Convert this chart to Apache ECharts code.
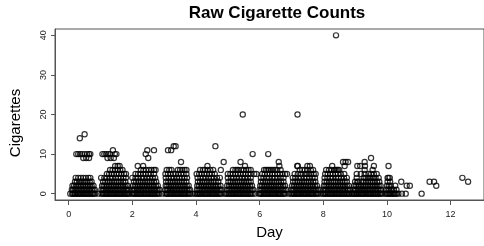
<!DOCTYPE html>
<html><head><meta charset="utf-8">
<script src="https://cdn.jsdelivr.net/npm/echarts@6/dist/echarts.min.js"></script>
<style>html,body{margin:0;padding:0;background:#fff}#c{width:484px;height:246px}</style>
</head><body><div id="c"></div>
<script>
// Day (x) values of observations with 0..4 cigarettes
const cig0 = [0.05,0.11,0.14,0.18,0.21,0.25,0.29,0.32,0.36,0.39,0.43,0.47,0.5,0.54,0.57,0.61,0.65,0.68,0.72,0.75,0.79,0.83,
 0.93,1.03,1.07,1.1,1.14,1.18,1.21,1.25,1.29,1.32,1.36,1.4,1.43,1.47,1.51,1.54,1.58,1.62,1.65,1.69,1.73,1.76,1.8,1.84,1.87,1.91,
 1.99,2.03,2.06,2.1,2.14,2.17,2.21,2.25,2.28,2.32,2.36,2.39,2.43,2.47,2.5,2.54,2.58,2.61,2.65,2.69,2.72,2.76,2.8,2.84,2.93,
 3.04,3.08,3.11,3.15,3.19,3.22,3.26,3.3,3.33,3.37,3.41,3.44,3.48,3.52,3.55,3.59,3.63,3.66,3.7,3.74,3.78,3.82,3.89,3.97,
 4.02,4.06,4.09,4.13,4.17,4.2,4.24,4.28,4.31,4.35,4.39,4.42,4.46,4.5,4.53,4.57,4.61,4.64,4.68,4.72,4.76,4.8,4.9,
 4.95,4.99,5.03,5.06,5.1,5.14,5.17,5.21,5.25,5.28,5.32,5.36,5.39,5.43,5.47,5.5,5.54,5.58,5.61,5.65,5.69,5.73,5.78,5.85,
 5.98,6.02,6.05,6.09,6.13,6.16,6.2,6.24,6.27,6.31,6.35,6.38,6.42,6.46,6.49,6.53,6.57,6.6,6.64,6.68,6.72,6.76,6.8,6.91,
 6.98,7.02,7.06,7.09,7.13,7.17,7.2,7.24,7.28,7.31,7.35,7.39,7.42,7.46,7.5,7.53,7.57,7.61,7.64,7.68,7.72,7.76,7.8,7.84,7.92,
 7.99,8.03,8.06,8.1,8.14,8.17,8.21,8.25,8.28,8.32,8.36,8.39,8.43,8.47,8.5,8.54,8.58,8.61,8.65,8.69,8.72,8.76,8.8,8.82,8.9,
 8.92,8.96,9.0,9.03,9.07,9.11,9.14,9.18,9.22,9.25,9.29,9.33,9.36,9.4,9.44,9.47,9.51,9.55,9.58,9.62,9.66,9.7,9.73,9.77,9.81,9.85,
 9.95,9.99,10.03,10.07,10.1,10.14,10.18,10.22,10.26,10.3,10.36,10.47,10.59,11.09];
const cig1 = [0.1,0.14,0.19,0.23,0.28,0.32,0.37,0.41,0.46,0.5,0.55,0.59,0.64,0.68,0.73,0.78,0.82,
 1.03,1.08,1.12,1.17,1.21,1.26,1.3,1.35,1.39,1.44,1.48,1.53,1.57,1.62,1.66,1.71,1.75,1.8,1.84,1.88,
 2.0,2.05,2.09,2.14,2.18,2.23,2.27,2.32,2.36,2.41,2.45,2.5,2.54,2.59,2.63,2.68,2.72,2.77,2.82,2.86,
 3.04,3.09,3.13,3.18,3.22,3.27,3.31,3.36,3.4,3.45,3.49,3.54,3.58,3.63,3.67,3.72,3.77,3.81,
 4.03,4.08,4.12,4.17,4.21,4.26,4.3,4.35,4.39,4.44,4.48,4.53,4.57,4.62,4.66,4.71,4.76,4.8,
 4.97,5.02,5.06,5.11,5.15,5.2,5.24,5.29,5.33,5.38,5.42,5.47,5.51,5.56,5.6,5.65,5.7,5.75,5.8,
 6.0,6.05,6.09,6.14,6.18,6.23,6.27,6.32,6.36,6.41,6.45,6.5,6.54,6.59,6.63,6.68,6.73,6.78,6.84,
 7.0,7.05,7.09,7.14,7.18,7.23,7.27,7.32,7.36,7.41,7.45,7.5,7.54,7.59,7.63,7.68,7.72,7.77,7.82,7.88,
 8.0,8.05,8.09,8.14,8.18,8.23,8.27,8.32,8.36,8.41,8.45,8.5,8.54,8.59,8.63,8.68,8.73,8.78,8.83,
 8.95,9.0,9.04,9.09,9.13,9.18,9.22,9.27,9.31,9.36,9.4,9.45,9.49,9.54,9.58,9.63,9.67,9.72,9.77,9.82,
 9.97,10.02,10.07,10.12,10.17,10.22,10.3];
const cig2 = [0.12,0.17,0.23,0.28,0.34,0.39,0.45,0.5,0.56,0.61,0.67,0.72,0.78,
 1.05,1.1,1.16,1.21,1.27,1.32,1.38,1.43,1.49,1.54,1.6,1.65,1.71,1.76,1.82,1.86,
 2.02,2.08,2.13,2.19,2.24,2.3,2.35,2.41,2.46,2.52,2.57,2.63,2.68,2.74,2.8,
 3.05,3.1,3.16,3.21,3.27,3.32,3.38,3.43,3.49,3.54,3.6,3.65,3.71,3.77,
 4.04,4.09,4.15,4.2,4.26,4.31,4.37,4.42,4.48,4.53,4.59,4.64,4.7,4.77,
 4.98,5.04,5.09,5.15,5.2,5.26,5.31,5.37,5.42,5.48,5.53,5.59,5.64,5.7,5.76,
 6.02,6.07,6.13,6.18,6.24,6.29,6.35,6.4,6.46,6.51,6.57,6.62,6.68,6.74,6.8,
 7.02,7.08,7.13,7.19,7.24,7.3,7.35,7.41,7.46,7.52,7.57,7.63,7.68,7.74,7.8,
 8.02,8.07,8.13,8.18,8.24,8.29,8.35,8.4,8.46,8.51,8.57,8.62,8.68,8.74,8.8,
 8.97,9.02,9.08,9.13,9.19,9.24,9.3,9.35,9.41,9.46,9.52,9.57,9.63,9.68,9.74,9.8,
 10.0,10.06,10.12,10.26,10.62,10.72,11.55];
const cig3 = [0.2,0.26,0.33,0.39,0.46,0.52,0.59,0.66,0.72,
 1.08,1.15,1.22,1.29,1.36,1.43,1.5,1.57,1.64,1.71,1.78,
 2.05,2.12,2.19,2.26,2.33,2.4,2.47,2.54,2.61,2.68,2.75,
 3.06,3.13,3.2,3.27,3.34,3.41,3.48,3.55,3.62,3.7,
 4.06,4.13,4.2,4.27,4.34,4.41,4.48,4.55,4.62,4.7,
 5.02,5.09,5.16,5.23,5.3,5.37,5.44,5.51,5.58,5.65,5.72,
 6.04,6.11,6.18,6.25,6.32,6.39,6.46,6.53,6.6,6.67,6.75,
 7.05,7.12,7.19,7.26,7.33,7.4,7.47,7.54,7.61,7.68,7.75,
 8.04,8.11,8.18,8.25,8.32,8.39,8.46,8.53,8.6,8.67,8.74,
 9.0,9.07,9.1,9.2,9.27,9.34,9.41,9.48,9.55,9.62,9.69,9.76,
 10.02,10.1,10.45,11.34,11.48,12.55];
const cig4 = [0.22,0.3,0.38,0.46,0.54,0.62,0.68,
 1.02,1.12,1.2,1.3,1.38,1.48,1.56,1.64,1.72,1.8,
 2.0,2.1,2.18,2.28,2.36,2.46,2.55,2.64,2.72,
 3.05,3.14,3.22,3.3,3.4,3.48,3.56,3.64,3.72,
 4.05,4.14,4.22,4.3,4.4,4.48,4.56,4.66,4.75,
 5.0,5.1,5.18,5.27,5.36,5.45,5.54,5.63,5.72,
 6.04,6.12,6.22,6.3,6.4,6.48,6.56,6.66,6.75,
 7.04,7.12,7.22,7.3,7.4,7.48,7.56,7.66,7.74,
 8.04,8.13,8.22,8.3,8.4,8.48,8.56,8.65,8.74,
 9.05,9.27,9.33,9.4,9.46,9.52,9.58,9.64,9.74,
 10.02,10.05,10.09,12.37];
// [day, cigarettes] for counts of 5 and above
const highCounts = [
 [0.35,14],[0.5,15],[0.24,10],[0.3,10],[0.36,10],[0.42,10],[0.5,10],[0.58,10],[0.64,10],[0.68,10],[0.46,9],[0.55,9],[0.64,9],
 [1.39,11],[1.06,10],[1.12,10],[1.18,10],[1.24,10],[1.3,10],[1.45,10],[1.5,10],[1.22,9],[1.32,9],[1.42,9],
 [1.46,7],[1.54,7],[1.6,7],[1.3,6],[1.38,6],[1.46,6],[1.55,6],[1.62,6],[1.69,6],
 [1.2,5],[1.27,5],[1.35,5],[1.42,5],[1.5,5],[1.58,5],[1.66,5],[1.74,5],[1.8,5],
 [2.47,11],[2.68,11],[2.42,10],[2.5,9],[2.17,7],[2.34,7],[2.27,6],[2.35,6],[2.43,6],[2.52,6],[2.6,6],[2.68,6],[2.73,6],
 [2.1,5],[2.18,5],[2.26,5],[2.34,5],[2.42,5],[2.5,5],[2.58,5],[2.68,5],
 [3.12,11],[3.22,11],[3.3,12],[3.36,12],[3.53,8],[3.08,6],[3.16,6],[3.23,6],[3.43,6],[3.5,6],[3.57,6],[3.64,6],[3.7,6],
 [3.04,5],[3.12,5],[3.2,5],[3.28,5],[3.36,5],[3.45,5],[3.53,5],[3.61,5],[3.7,5],
 [4.61,12],[4.87,8],[4.36,7],[4.13,6],[4.22,6],[4.28,6],[4.36,6],[4.45,6],[4.54,6],[4.78,6],
 [4.02,5],[4.1,5],[4.18,5],[4.26,5],[4.34,5],[4.42,5],[4.5,5],[4.59,5],
 [5.47,20],[5.4,8],[5.78,10],[5.9,5],[5.54,7],[5.16,6],[5.24,6],[5.3,6],[5.34,6],[5.42,6],[5.5,6],[5.58,6],[5.65,6],[5.72,6],
 [5.0,5],[5.08,5],[5.16,5],[5.24,5],[5.32,5],[5.4,5],[5.48,5],[5.56,5],[5.64,5],[5.72,5],[5.83,5],
 [6.27,10],[6.6,8],[6.62,7],[6.14,6],[6.2,6],[6.25,6],[6.3,6],[6.36,6],[6.42,6],[6.48,6],[6.55,6],[6.66,6],
 [6.08,5],[6.16,5],[6.24,5],[6.32,5],[6.4,5],[6.48,5],[6.56,5],[6.64,5],[6.72,5],[6.8,5],[6.86,5],
 [7.19,20],[7.18,7],[7.2,7],[7.5,7],[7.58,7],[7.26,6],[7.34,6],[7.42,6],[7.5,6],[7.61,6],[7.68,6],
 [7.1,5],[7.2,5],[7.3,5],[7.42,5],[7.48,5],[7.54,5],[7.62,5],[7.7,5],[7.76,5],
 [8.4,40],[8.62,8],[8.7,8],[8.78,8],[8.67,7],[8.28,7],[8.09,6],[8.18,6],[8.26,6],[8.34,6],[8.38,6],[8.42,6],[8.46,6],[8.5,6],
 [8.06,5],[8.14,5],[8.22,5],[8.3,5],[8.38,5],[8.46,5],[8.55,5],[8.66,5],
 [9.5,9],[9.07,7],[9.16,7],[9.31,7],[9.59,7],[9.3,8],[9.3,6],[9.55,6],
 [9.05,5],[9.18,5],[9.3,5],[9.42,5],[9.5,5],[9.59,5],[9.68,5],
 [10.05,7]];
const xTicks = [0,2,4,6,8,10,12];
const yTicks = [0,10,20,30,40];

const points = [];
[[cig0,0],[cig1,1],[cig2,2],[cig3,3],[cig4,4]].forEach(([xs,v]) => xs.forEach(x => points.push([x,v])));
highCounts.forEach(p => points.push(p));

const font = 'Liberation Sans, Arial, Helvetica, sans-serif';
const axisCol = '#555';
const chart = echarts.init(document.getElementById('c'), null, {renderer:'canvas'});
chart.setOption({
  animation:false,
  backgroundColor:'#fff',
  title:{text:'Raw Cigarette Counts', left:272, top:0, textAlign:'center',
    textStyle:{fontFamily:font, fontSize:17, fontWeight:'bold', color:'#000'}},
  graphic:[{type:'text', x:16, y:123, rotation:Math.PI/2,
    style:{text:'Cigarettes', fontSize:15, fontFamily:font, fill:'#000', align:'center', verticalAlign:'middle'}}],
  grid:{left:55, top:29, width:435, height:171, show:true, borderColor:axisCol, borderWidth:1, containLabel:false},
  xAxis:{type:'value', min:-0.43, max:13.05, position:'bottom',
    axisLine:{show:true, onZero:false, lineStyle:{color:axisCol, width:1}},
    axisTick:{show:true, inside:false, customValues:xTicks, length:5, lineStyle:{color:axisCol}},
    axisLabel:{customValues:xTicks, fontSize:9, color:'#222', margin:10, fontFamily:font},
    splitLine:{show:false},
    name:'Day', nameLocation:'middle', nameGap:25,
    nameTextStyle:{fontSize:15, color:'#000', fontFamily:font}},
  yAxis:{type:'value', min:-1.6, max:41.6, position:'left',
    axisLine:{show:true, onZero:false, lineStyle:{color:axisCol, width:1}},
    axisTick:{show:true, inside:false, customValues:yTicks, length:4, lineStyle:{color:axisCol}},
    axisLabel:{customValues:yTicks, fontSize:9, color:'#222', margin:7, rotate:90, fontFamily:font},
    splitLine:{show:false}},
  series:[{type:'scatter', data:points, symbol:'circle', symbolSize:5.2,
    itemStyle:{color:'rgba(0,0,0,0)', borderColor:'#000', borderWidth:1.2},
    emphasis:{disabled:true}, large:false, progressive:0}]
});
</script></body></html>
